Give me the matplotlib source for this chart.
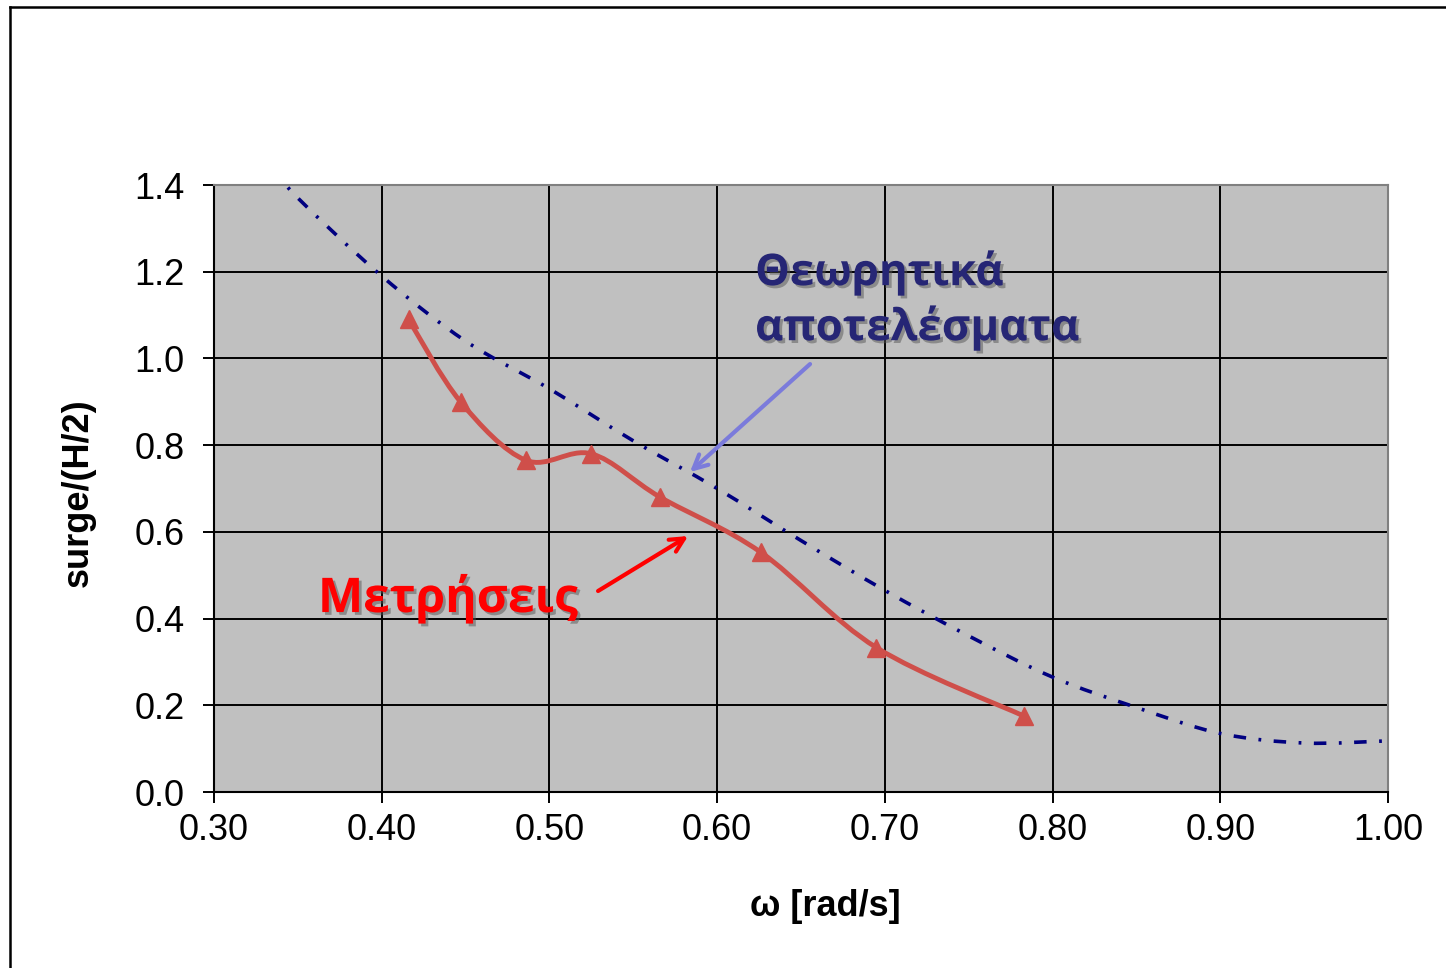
import numpy as np
import matplotlib
matplotlib.use("Agg")
import matplotlib.pyplot as plt
from matplotlib.path import Path
from matplotlib.patches import PathPatch
from matplotlib.lines import Line2D
import matplotlib.patheffects as pe

plt.rcParams['lines.scale_dashes'] = False

# ---- data ----
meas_w = [0.416, 0.447, 0.486, 0.525, 0.566, 0.626, 0.695, 0.783]
meas_s = [1.09, 0.90, 0.765, 0.78, 0.68, 0.553, 0.333, 0.175]

theo_w = [0.335, 0.35, 0.40, 0.45, 0.50, 0.55, 0.60, 0.65, 0.70, 0.75, 0.80, 0.85, 0.90, 0.95, 1.00]
theo_s = [1.44, 1.37, 1.19, 1.04, 0.93, 0.81, 0.70, 0.58, 0.465, 0.36, 0.265, 0.195, 0.135, 0.113, 0.118]

x_ticks = [0.30, 0.40, 0.50, 0.60, 0.70, 0.80, 0.90, 1.00]
y_ticks = [0.0, 0.2, 0.4, 0.6, 0.8, 1.0, 1.2, 1.4]


def smooth_path(xs, ys):
    P = np.column_stack([xs, ys]).astype(float)
    n = len(P)
    verts = [P[0]]
    codes = [Path.MOVETO]
    for i in range(n - 1):
        p0 = P[i - 1] if i > 0 else P[i]
        p1 = P[i]
        p2 = P[i + 1]
        p3 = P[i + 2] if i + 2 < n else P[i + 1]
        c1 = p1 + (p2 - p0) / 6.0
        c2 = p2 - (p3 - p1) / 6.0
        verts += [c1, c2, p2]
        codes += [Path.CURVE4] * 3
    return Path(verts, codes)


fig = plt.figure(figsize=(14.46, 9.68), dpi=100)
ax = fig.add_axes([214 / 1446, 1 - 792 / 968, (1388 - 214) / 1446, (792 - 185) / 968])
ax.set_facecolor('#C0C0C0')
ax.set_xlim(0.30, 1.00)
ax.set_ylim(0.0, 1.4)
ax.set_xticks(x_ticks)
ax.set_yticks(y_ticks)
ax.set_xticklabels([f"{v:.2f}" for v in x_ticks])
ax.set_yticklabels([f"{v:.1f}" for v in y_ticks])
ax.grid(True, color='black', linewidth=1.4)
ax.set_axisbelow(True)
ax.tick_params(axis='both', direction='out', length=8, width=1.4, labelsize=26,
               colors='black')
ax.tick_params(axis='y', pad=13)
ax.tick_params(axis='x', pad=7)
for s in ['top', 'right']:
    ax.spines[s].set_color('#808080')
    ax.spines[s].set_linewidth(1.5)
for s in ['left', 'bottom']:
    ax.spines[s].set_color('black')
    ax.spines[s].set_linewidth(1.5)
for lab in ax.get_xticklabels() + ax.get_yticklabels():
    lab.set_fontfamily('Liberation Sans')

# theoretical curve
tp = PathPatch(smooth_path(theo_w, theo_s), fill=False, edgecolor='#000080',
               linewidth=2.6, linestyle=(0, (9, 9, 2, 9)), zorder=3)
ax.add_patch(tp)

# measurements
mp = PathPatch(smooth_path(meas_w, meas_s), fill=False, edgecolor='#CF4F4A',
               linewidth=3.5, zorder=4, capstyle='round', joinstyle='round')
ax.add_patch(mp)
ax.plot(meas_w, meas_s, linestyle='none', marker='^', markersize=13,
        color='#CF4F4A', zorder=5)

ax.set_xlabel('ω [rad/s]', fontsize=26, fontweight='bold', family='Liberation Sans')
ax.set_ylabel('surge/(H/2)', fontsize=26, fontweight='bold', family='Liberation Sans')
ax.xaxis.set_label_coords(0.521, -0.160)
ax.yaxis.set_label_coords(-0.1005, 0.4926)

shadow = [pe.withSimplePatchShadow(offset=(2, -2), shadow_rgbFace='#555555', alpha=0.5)]

ax.text(0.6226, 1.169, 'Θεωρητικά', color='#262675', fontsize=31.5, fontweight='bold',
        family='Open Sans', va='baseline', ha='left', path_effects=shadow, zorder=6)
ax.text(0.6226, 1.042, 'αποτελέσματα', color='#262675', fontsize=31.5, fontweight='bold',
        family='Open Sans', va='baseline', ha='left', path_effects=shadow, zorder=6)
ax.text(0.362, 0.415, 'Μετρήσεις', color='#FF0000', fontsize=34.5, fontweight='bold',
        family='Open Sans', va='baseline', ha='left', path_effects=shadow, zorder=6)

ax.annotate('', xy=(0.5838, 0.738), xytext=(0.6554, 0.987),
            arrowprops=dict(arrowstyle='->', color='#7B7BDB', lw=3,
                            mutation_scale=25, shrinkA=0, shrinkB=0), zorder=6)
ax.annotate('', xy=(0.5827, 0.5904), xytext=(0.529, 0.4636),
            arrowprops=dict(arrowstyle='->', color='#FF0000', lw=3,
                            mutation_scale=25, shrinkA=0, shrinkB=0), zorder=6)

# frame lines of the slide
fig.add_artist(Line2D([10 / 1446, 1.0], [1 - 7 / 968, 1 - 7 / 968], color='black', lw=1.8,
                      transform=fig.transFigure))
fig.add_artist(Line2D([10 / 1446, 10 / 1446], [0.0, 1 - 7 / 968], color='black', lw=1.8,
                      transform=fig.transFigure))

fig.savefig('out.png', dpi=100)
